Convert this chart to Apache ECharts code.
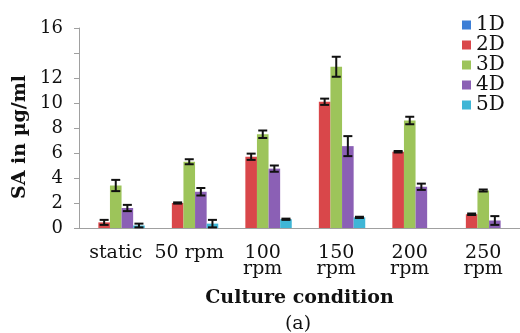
<!DOCTYPE html>
<html>
<head>
<meta charset="utf-8">
<script src="https://cdn.jsdelivr.net/npm/echarts@6/dist/echarts.min.js"></script>
<style>
html, body { margin: 0; padding: 0; background: #fff; }
#chart { width: 520px; height: 333px; }
</style>
</head>
<body>
<div id="chart"></div>
<script>
// 数据
var categories = ['static', '50 rpm', '100\nrpm', '150\nrpm', '200\nrpm', '250\nrpm'];
var seriesNames = ['1D', '2D', '3D', '4D', '5D'];
var colors = ['#3d7fd6', '#d9474a', '#9dc45a', '#8b60b5', '#3fb6d6'];

var d1 = [0, 0, 0, 0, 0, 0];
var d2 = [0.45, 2.0, 5.7, 10.1, 6.1, 1.1];
var d3 = [3.4, 5.3, 7.5, 12.9, 8.6, 3.0];
var d4 = [1.6, 2.9, 4.75, 6.55, 3.3, 0.6];
var d5 = [0.2, 0.35, 0.7, 0.85, 0, 0];

var e1 = [0, 0, 0, 0, 0, 0];
var e2 = [0.2, 0.05, 0.25, 0.25, 0.06, 0.06];
var e3 = [0.45, 0.2, 0.3, 0.8, 0.3, 0.08];
var e4 = [0.25, 0.3, 0.25, 0.8, 0.25, 0.35];
var e5 = [0.15, 0.3, 0.05, 0.05, 0, 0];

var yTicks = [0, 2, 4, 6, 8, 10, 12, 16];

var values = [d1, d2, d3, d4, d5];
var errors = [e1, e2, e3, e4, e5];
var barW = 11.6;
var serif = 'DejaVu Serif';

var chart = echarts.init(document.getElementById('chart'));

var series = [];
// 柱子
for (var i = 0; i < values.length; i++) {
	series.push({
		name: seriesNames[i],
		type: 'bar',
		barWidth: barW,
		barGap: '0%',
		itemStyle: { color: colors[i] },
		data: values[i]
	});
}
// 误差线
for (var j = 0; j < values.length; j++) {
	var errData = [];
	for (var k = 0; k < categories.length; k++) {
		if (errors[j][k] > 0) {
			errData.push([k, values[j][k], errors[j][k]]);
		}
	}
	series.push({
		type: 'custom',
		z: 5,
		silent: true,
		data: errData,
		encode: { x: 0, y: 1 },
		renderItem: (function(idx) {
			return function(params, api) {
				var c = api.value(0), v = api.value(1), e = api.value(2);
				var off = (idx - 2) * barW;
				var hi = api.coord([c, v + e]);
				var lo = api.coord([c, Math.max(v - e, 0)]);
				var x = hi[0] + off;
				var cap = 4.5;
				var st = { stroke: '#111', lineWidth: 2 };
				return {
					type: 'group',
					children: [
						{ type: 'line', shape: { x1: x, y1: hi[1], x2: x, y2: lo[1] }, style: st },
						{ type: 'line', shape: { x1: x - cap, y1: hi[1], x2: x + cap, y2: hi[1] }, style: st },
						{ type: 'line', shape: { x1: x - cap, y1: lo[1], x2: x + cap, y2: lo[1] }, style: st }
					]
				};
			};
		})(j)
	});
}

var option = {
	animation: false,
	backgroundColor: '#fff',
	grid: { left: 79, right: -3, top: 28, bottom: 105 },
	title: {
		text: '(a)',
		left: 293,
		top: 310,
		textAlign: 'center',
		textStyle: { fontFamily: serif, fontWeight: 'normal', fontSize: 19, color: '#111' }
	},
	legend: {
		orient: 'vertical',
		left: 457,
		top: 10,
		itemWidth: 9,
		itemHeight: 9,
		itemGap: 0,
		icon: 'rect',
		data: seriesNames,
		textStyle: { fontFamily: serif, fontSize: 20, lineHeight: 19.5, color: '#111' }
	},
	xAxis: {
		type: 'category',
		data: categories,
		name: 'Culture condition',
		nameLocation: 'middle',
		nameGap: 61,
		nameTextStyle: { fontFamily: serif, fontWeight: 'bold', fontSize: 19, color: '#111' },
		axisLine: { lineStyle: { color: '#a0a0a0', width: 1 } },
		axisTick: { length: 5, lineStyle: { color: '#a0a0a0' } },
		axisLabel: { fontFamily: serif, fontSize: 19, lineHeight: 16, color: '#111', margin: 17, interval: 0 }
	},
	yAxis: {
		type: 'value',
		min: 0,
		max: 16,
		interval: 2,
		name: 'SA in µg/ml',
		nameLocation: 'middle',
		nameRotate: 90,
		nameGap: 47,
		nameTextStyle: { fontFamily: serif, fontWeight: 'bold', fontSize: 19, color: '#111', padding: [0, 18, 0, 0] },
		splitLine: { show: false },
		axisLine: { show: true, lineStyle: { color: '#a0a0a0', width: 1 } },
		axisTick: { show: true, length: 5, lineStyle: { color: '#a0a0a0' } },
		axisLabel: {
			fontFamily: serif,
			fontSize: 18,
			color: '#111',
			margin: 16,
			formatter: function(v) {
				return yTicks.indexOf(v) >= 0 ? String(v) : '';
			}
		}
	},
	series: series
};

chart.setOption(option);
</script>
</body>
</html>
